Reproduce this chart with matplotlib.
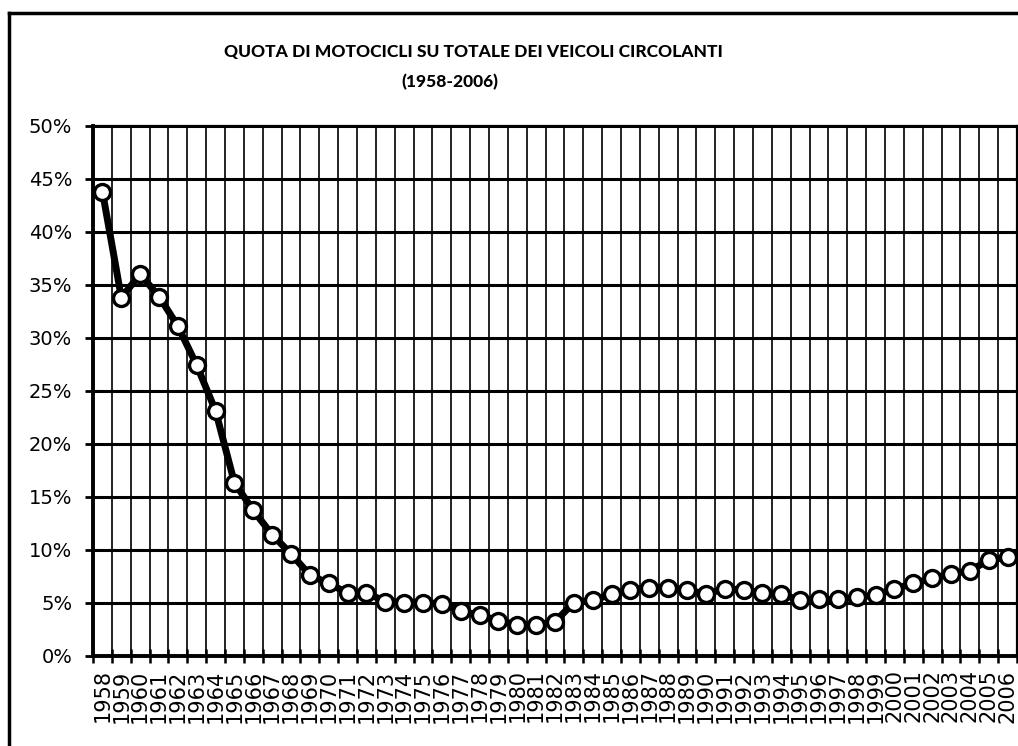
import matplotlib
matplotlib.use("Agg")
import matplotlib.pyplot as plt
from matplotlib.lines import Line2D
from matplotlib.ticker import FixedLocator

# anni e quota di motocicli (%)
anni = list(range(1958, 2007))
quota = [43.8, 33.8, 36.0, 33.9, 31.1, 27.4, 23.1, 16.3, 13.7, 11.4,
         9.6, 7.6, 6.8, 5.9, 5.9, 5.1, 5.0, 5.0, 4.9, 4.2,
         3.8, 3.3, 2.9, 2.9, 3.2, 5.0, 5.2, 5.8, 6.2, 6.4,
         6.4, 6.2, 5.8, 6.3, 6.2, 5.9, 5.8, 5.2, 5.3, 5.3,
         5.5, 5.7, 6.3, 6.8, 7.3, 7.7, 8.0, 9.0, 9.3]
y_ticks = [0, 5, 10, 15, 20, 25, 30, 35, 40, 45, 50]
titolo = "QUOTA DI MOTOCICLI SU TOTALE DEI VEICOLI CIRCOLANTI"
sottotitolo = "(1958-2006)"

fig = plt.figure(figsize=(10.18, 7.46), dpi=100)
ax = fig.add_axes([0.0914, 0.1213, 0.9076, 0.7098])

x = list(range(len(anni)))
ax.plot(x, quota, color='black', linewidth=5, marker='o', markersize=11.5,
        markerfacecolor='white', markeredgecolor='black', markeredgewidth=2.4,
        zorder=5, solid_joinstyle='round')

ax.set_xlim(-0.5, len(anni) - 0.5)
ax.set_ylim(0, 50)

# etichette al centro delle categorie, tacche sui bordi
ax.set_xticks(x)
ax.set_xticklabels([str(a) for a in anni], rotation=90, fontsize=15,
                   family='DejaVu Sans')
ax.xaxis.set_minor_locator(FixedLocator([i - 0.5 for i in range(len(anni) + 1)]))
ax.tick_params(axis='x', which='major', length=0, pad=10)
ax.tick_params(axis='x', which='minor', length=10, width=1.8, direction='inout')

ax.set_yticks(y_ticks)
ax.set_yticklabels([f"{v}%" for v in y_ticks], fontsize=14, family='DejaVu Sans')
ax.tick_params(axis='y', length=6, width=2, direction='out', pad=9)

ax.grid(True, axis='y', which='major', color='black', linewidth=2.2)
ax.grid(True, axis='x', which='minor', color='#222222', linewidth=1.4)
ax.set_axisbelow(True)

for s in ['left', 'bottom']:
    ax.spines[s].set_linewidth(2.8)
for s in ['top', 'right']:
    ax.spines[s].set_linewidth(1.6)

fig.text(473 / 1018, 1 - 52 / 746, titolo, ha='center', va='center',
         fontsize=12.5, fontweight='black', family='Lato')
fig.text(450 / 1018, 1 - 82 / 746, sottotitolo, ha='center', va='center',
         fontsize=12.5, fontweight='black', family='Lato')

# cornice esterna
fig.add_artist(Line2D([9 / 1018, 9 / 1018], [0, 1 - 13 / 746], color='black',
                      linewidth=2.5, transform=fig.transFigure))
fig.add_artist(Line2D([9 / 1018, 1], [1 - 13 / 746, 1 - 13 / 746], color='black',
                      linewidth=2.5, transform=fig.transFigure))

fig.savefig("out.png", dpi=100)
